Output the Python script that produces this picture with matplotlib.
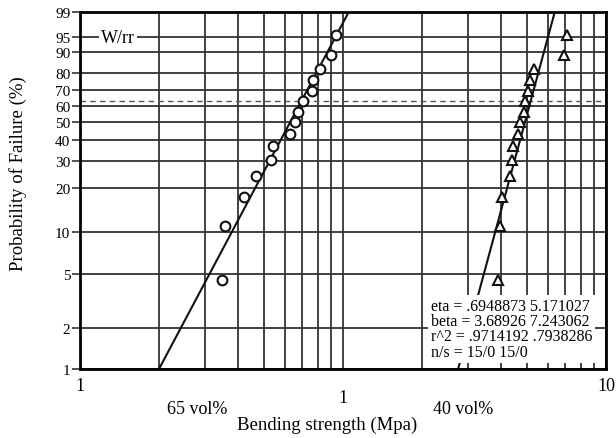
import numpy as np
import matplotlib
matplotlib.use('Agg')
from matplotlib import pyplot as plt
from matplotlib.ticker import FixedLocator, NullFormatter

# data
strength_65 = [0.347, 0.355, 0.422, 0.466, 0.533, 0.542, 0.631, 0.658, 0.673,
               0.706, 0.759, 0.770, 0.816, 0.904, 0.939]
strength_40 = [3.87, 3.96, 4.02, 4.33, 4.40, 4.43, 4.63, 4.70, 4.86,
               4.94, 5.04, 5.16, 5.31, 6.91, 7.12]
eta = [0.6948873, 5.171027]
beta = [3.68926, 7.243062]
r2 = [0.9714192, 0.7938286]
prob_ticks = [1, 2, 5, 10, 20, 30, 40, 50, 60, 70, 80, 90, 95, 99]


def weib(p):
    # weibull probability scale
    p = np.asarray(p, dtype=float)
    return np.log(-np.log(1 - p))


def median_rank(n):
    i = np.arange(1, n + 1)
    return (i - 0.3) / (n + 0.4)


plt.rcParams['font.family'] = ['Liberation Serif', 'DejaVu Serif']

fig = plt.figure(figsize=(6.16, 4.39), dpi=100)
ax = fig.add_axes([80 / 616, 69 / 439, 526 / 616, 357 / 439])

ax.set_xscale('log')
ax.set_xlim(0.1, 10)
ax.set_ylim(weib(0.01), weib(0.99))

# grid
ax.xaxis.set_major_locator(FixedLocator([0.1, 1, 10]))
ax.xaxis.set_minor_locator(FixedLocator([k * d for d in (0.1, 1) for k in range(2, 10)]))
ax.xaxis.set_major_formatter(NullFormatter())
ax.xaxis.set_minor_formatter(NullFormatter())
ax.set_yticks(weib(np.array(prob_ticks) / 100.0))
ax.set_yticklabels([str(p) for p in prob_ticks])
ax.grid(True, which='both', color='#333333', linewidth=1.3)
ax.tick_params(axis='x', which='both', length=0)
ax.tick_params(axis='y', direction='out', length=6, width=1.2, pad=1,
               labelsize=11, color='#333333')
for s in ax.spines.values():
    s.set_linewidth(2)
ax.set_axisbelow(True)

# 1/e line
ax.axhline(0, color='#555555', linewidth=1.0, linestyle=(0, (4, 3)))

# fitted lines
ylo, yhi = weib(0.01), weib(0.99)
for e, b in zip(eta, beta):
    w = np.array([ylo, yhi])
    x = e * np.exp(w / b)
    ax.plot(x, w, color='#111111', linewidth=1.5, zorder=3)

# points
ax.plot(strength_65, weib(median_rank(len(strength_65))), 'o', mfc='white',
        mec='#111111', mew=1.5, ms=7, zorder=4)
ax.plot(strength_40, weib(median_rank(len(strength_40))), '^', mfc='white',
        mec='#111111', mew=1.5, ms=7, zorder=4)

ax.text(0.072, weib(0.95), 'W/rr', transform=ax.get_yaxis_transform(),
        ha='center', va='center', fontsize=13,
        bbox=dict(facecolor='white', edgecolor='none', pad=1.5), zorder=5)

stats = ('eta = .6948873 5.171027\n'
         'beta = 3.68926 7.243062\n'
         'r^2 = .9714192 .7938286\n'
         'n/s = 15/0 15/0')
ax.text(0.667, 0.2, stats, transform=ax.transAxes, ha='left', va='top',
        fontsize=11.5, linespacing=0.95,
        bbox=dict(facecolor='white', edgecolor='none', pad=2), zorder=5)

# x tick labels (staggered like the source)
xt = ax.get_xaxis_transform()
ax.text(0.1, -0.045, '1', transform=xt, ha='center', va='center', fontsize=13)
ax.text(1, -0.081, '1', transform=xt, ha='center', va='center', fontsize=13)
ax.text(10, -0.045, '10', transform=xt, ha='center', va='center', fontsize=13)
ax.text(0.278, -0.112, '65 vol%', transform=xt, ha='center', va='center', fontsize=13)
ax.text(2.865, -0.112, '40 vol%', transform=xt, ha='center', va='center', fontsize=13)

ax.set_xlabel('Bending strength (Mpa)', fontsize=13.5)
ax.xaxis.set_label_coords(0.47, -0.13)
ax.set_ylabel('Probability of Failure (%)', fontsize=13.5)
ax.yaxis.set_label_coords(-0.10, 0.55)

fig.savefig('out.png', dpi=100)
